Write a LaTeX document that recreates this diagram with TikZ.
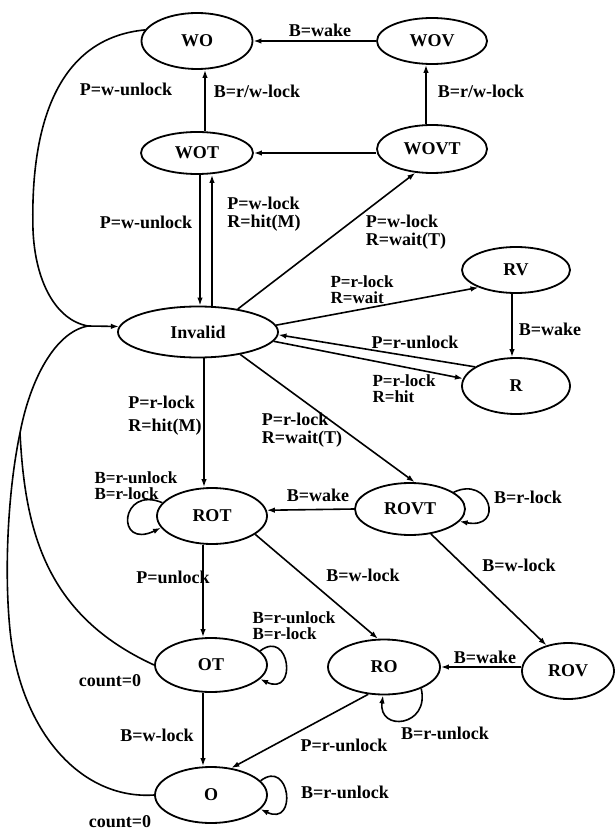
\documentclass[tikz,border=0pt]{standalone}
\usepackage{fontspec}
\setmainfont{Liberation Serif}
\usetikzlibrary{arrows.meta,shapes.geometric}
\begin{document}
\begin{tikzpicture}[x=1pt,y=-1pt,
  state/.style={ellipse, draw, line width=1.8pt, inner sep=0pt,
    font=\bfseries\fontsize{18}{18}\selectfont},
  lbl/.style={font=\bfseries\fontsize{18}{18}\selectfont, inner sep=0pt, align=left},
  tight/.style={font=\bfseries\fontsize{17}{16}\selectfont},
  link/.style={line width=1.6pt},
  arr/.style={link, -{Latex[length=8pt,width=5.5pt]}},
]
\useasboundingbox (0,0) rectangle (615,834);
\fill[white] (0,0) rectangle (615,834);

% states
\node[state, minimum width=111pt, minimum height=56pt] (WO)      at (197,41)  {WO};
\node[state, minimum width=110pt, minimum height=46pt] (WOV)     at (432,41)  {WOV};
\node[state, minimum width=112pt, minimum height=42pt] (WOT)     at (197,153) {WOT};
\node[state, minimum width=110pt, minimum height=48pt] (WOVT)    at (432,149) {WOVT};
\node[state, minimum width=160pt, minimum height=51pt] (Invalid) at (198,332) {Invalid};
\node[state, minimum width=108pt, minimum height=46pt] (RV)      at (516,270) {RV};
\node[state, minimum width=108pt, minimum height=56pt] (R)       at (516,386) {R};
\node[state, minimum width=110pt, minimum height=56pt] (ROT)     at (212,516) {ROT};
\node[state, minimum width=110pt, minimum height=52pt] (ROVT)    at (410,509) {ROVT};
\node[state, minimum width=112pt, minimum height=54pt] (OT)      at (211,665) {OT};
\node[state, minimum width=112pt, minimum height=55pt] (RO)      at (384,667) {RO};
\node[state, minimum width=92pt,  minimum height=56pt] (ROV)     at (568,671) {ROV};
\node[state, minimum width=112pt, minimum height=56pt] (O)       at (211,795) {O};

% junctions of the long curves on the left
\coordinate (merge) at (88,326);
\coordinate (split) at (20,433);

% write-owner part
\draw[arr] (WOV.west) -- (WO.east);
\draw[arr] ([xshift=8pt]WOT.north) -- ([xshift=8pt]WO.south);
\draw[arr] ([xshift=-6pt]WOVT.north) -- ([xshift=-6pt]WOV.south);
\draw[arr] (WOVT.west |- WOT.east) -- (WOT.east);
\draw[arr] ([xshift=3pt]WOT.south) -- ([xshift=2pt]Invalid.north);
\draw[arr] ([xshift=14pt]Invalid.north) -- ([xshift=15pt]WOT.south);
\draw[arr] (Invalid.30) -- (WOVT.235);

% curves back into Invalid
\draw[link] (WO.168) .. controls (60,38) and (30,120) .. (33,230)
  .. controls (35,280) and (55,320) .. (merge);
\draw[link] (OT.west) .. controls (45,615) and (25,530) .. (split)
  .. controls (30,380) and (55,332) .. (merge);
\draw[link] (O.west) .. controls (80,800) and (20,730) .. (10,630)
  .. controls (4,570) and (8,490) .. (split);
\draw[arr] (merge) -- (Invalid.176);

% reader part
\draw[arr] (Invalid.5) -- (RV.205);
\draw[arr] (R.155) -- (Invalid.-2);
\draw[arr] (Invalid.-7) -- (R.172);
\draw[arr] ([xshift=-4pt]RV.south) -- ([xshift=-4pt]R.north);

% read-owner part
\draw[arr] ([xshift=6pt]Invalid.south) -- ([xshift=-8pt]ROT.north);
\draw[arr] (Invalid.-28) -- (ROVT.80);
\draw[arr] (ROVT.west) -- (ROT.6);
\draw[arr] (ROT.165) .. controls (120,485) and (115,550) .. (ROT.193);
\draw[arr] (ROVT.21) .. controls (490,475) and (505,530) .. (ROVT.-14);
\draw[arr] ([xshift=-9pt]ROT.south) -- ([xshift=-8pt]OT.north);
\draw[arr] (ROT.-23) -- (RO.102);
\draw[arr] (ROVT.-50) -- (ROV.130);
\draw[arr] (ROV.west |- RO.east) -- (RO.east);
\draw[arr] (OT.16) .. controls (290,628) and (298,697) .. (OT.-16);
\draw[arr] ([xshift=-8pt]OT.south) -- ([xshift=-8pt]O.north);
\draw[arr] (RO.240) -- (O.53);
\draw[arr] (RO.-30) .. controls (430,727) and (378,732) .. (RO.-92);
\draw[arr] (O.16) .. controls (290,758) and (298,827) .. (O.-16);

% transition labels
\node[lbl] (l1)  at (320,30)  {B=wake};
\node[lbl] (l2)  at (257,91)  {B=r/w-lock};
\node[lbl] (l3)  at (126,89)  {P=w-unlock};
\node[lbl] (l4)  at (481,91)  {B=r/w-lock};
\node[lbl] (l5)  at (146,222) {P=w-unlock};
\node[lbl] (l6)  at (264,214) {P=w-lock\\R=hit(M)};
\node[lbl] (l7)  at (406,232) {P=w-lock\\R=wait(T)};
\node[lbl, tight] (l8)  at (362,290) {P=r-lock\\R=wait};
\node[lbl] (l9)  at (415,342) {P=r-unlock};
\node[lbl, tight] (l10) at (404,389) {P=r-lock\\R=hit};
\node[lbl] (l11) at (550,329) {B=wake};
\node[lbl] (l12) at (165,416) {P=r-lock\\[5pt]R=hit(M)};
\node[lbl] (l13) at (302,430) {P=r-lock\\R=wait(T)};
\node[lbl] (l14) at (318,495) {B=wake};
\node[lbl, tight] (l15) at (136,486) {B=r-unlock\\B=r-lock};
\node[lbl] (l16) at (528,497) {B=r-lock};
\node[lbl] (l17) at (173,577) {P=unlock};
\node[lbl] (l18) at (363,575) {B=w-lock};
\node[lbl] (l19) at (519,565) {B=w-lock};
\node[lbl, tight] (l20) at (294,626) {B=r-unlock\\B=r-lock};
\node[lbl] (l21) at (485,657) {B=wake};
\node[lbl] (l22) at (110,681) {count=0};
\node[lbl] (l23) at (157,735) {B=w-lock};
\node[lbl] (l24) at (344,745) {P=r-unlock};
\node[lbl] (l25) at (445,733) {B=r-unlock};
\node[lbl] (l26) at (345,792) {B=r-unlock};
\node[lbl] (l27) at (120,822) {count=0};
\end{tikzpicture}
\end{document}
